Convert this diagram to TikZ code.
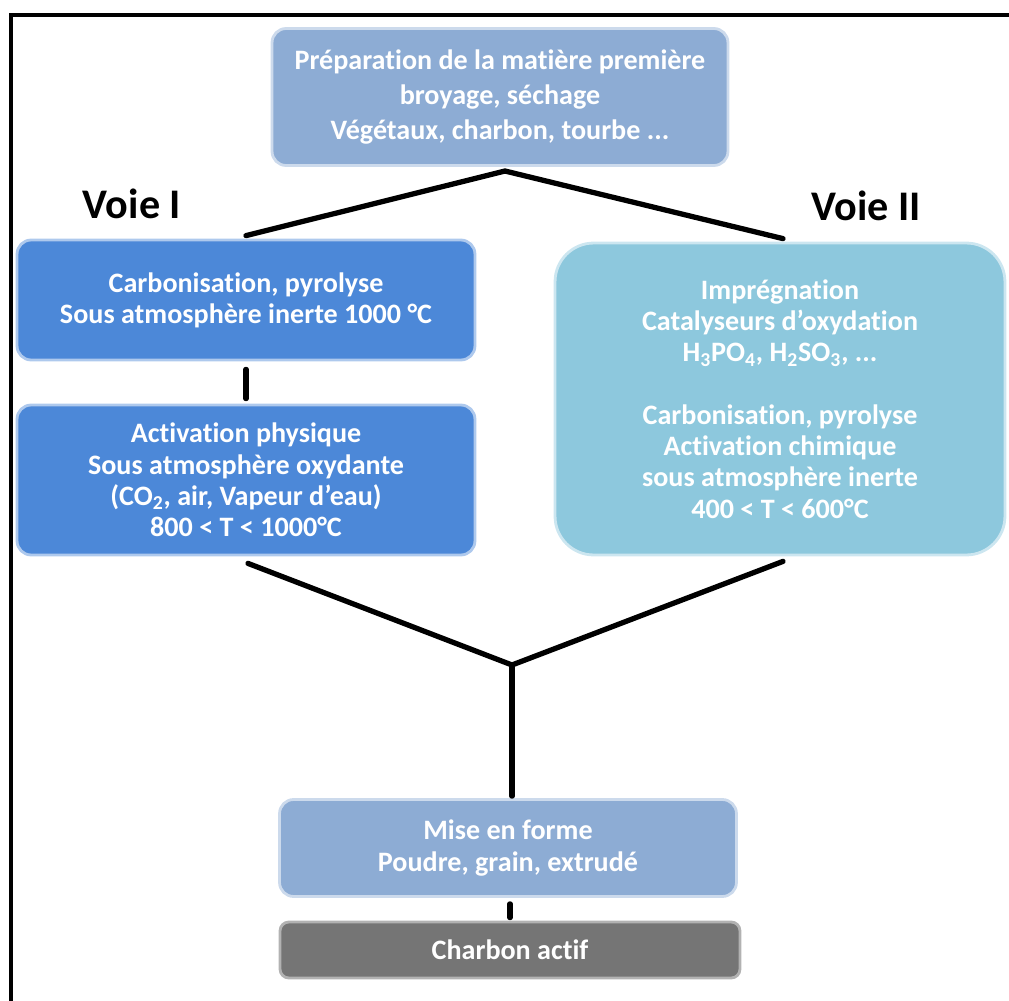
\documentclass[tikz,border=0pt]{standalone}
\usepackage{fontspec}
\setmainfont[Ligatures=NoCommon]{Carlito}
\usetikzlibrary{positioning,calc}
\definecolor{prep}{RGB}{141,172,212}
\definecolor{voiea}{RGB}{76,136,216}
\definecolor{voieb}{RGB}{141,200,221}
\definecolor{actif}{RGB}{117,117,117}

\begin{document}
\begin{tikzpicture}[x=0.02cm, y=-0.02cm,
  etape/.style={rectangle, draw=#1!45!white, fill=#1, line width=1.6pt, rounded corners=8pt,
                text=white, font=\fontsize{16}{17.8}\selectfont\bfseries, align=center},
  voie/.style={font=\fontsize{24}{28}\selectfont\bfseries},
  trait/.style={line width=3pt, line cap=round},
]
\useasboundingbox (0,0) rectangle (1009,1001);
\draw[line width=2.3pt] (11,1001) |- (1009,15);

\node[etape=prep, font=\fontsize{16}{20}\selectfont\bfseries,
      minimum width=9.12cm, minimum height=2.74cm] (prep) at (500,97) {
    Préparation de la matière première\\
    broyage, séchage\\
    Végétaux, charbon, tourbe ...
};

\node[voie] (v1) at (132,204) {Voie I};
\node[voie] (v2) at (866,206) {Voie II};

\node[etape=voiea, minimum width=9.16cm, minimum height=2.4cm] (carb) at (246,300) {
    Carbonisation, pyrolyse\\
    Sous atmosphère inerte 1000 °C
};
\node[etape=voiea, minimum width=9.16cm, minimum height=3.0cm] (phys) at (246,480) {
    Activation physique\\
    Sous atmosphère oxydante\\
    (CO\textsubscript{2}, air, Vapeur d’eau)\\
    800 < T < 1000°C
};

\node[etape=voieb, rounded corners=22pt, minimum width=9.0cm, minimum height=6.24cm] (chim) at (780,399) {
    Imprégnation\\
    Catalyseurs d’oxydation\\
    H\textsubscript{3}PO\textsubscript{4}, H\textsubscript{2}SO\textsubscript{3}, ...\\[17.8pt]
    Carbonisation, pyrolyse\\
    Activation chimique\\
    sous atmosphère inerte\\
    400 < T < 600°C
};

\node[etape=prep, minimum width=9.14cm, minimum height=1.94cm] (forme) at (508,848) {
    Mise en forme\\
    Poudre, grain, extrudé
};
\node[etape=actif, draw=black!30, rounded corners=5pt, minimum width=9.2cm, minimum height=1.12cm] (fin) at (510,950) {Charbon actif};

\coordinate (haut) at (505,171);
\coordinate (bas)  at (512,665);

\draw[trait] (carb.north) ++(0,-3) -- (haut) -- ($(chim.north)+(3,-3)$);
\draw[trait] ($(carb.south)+(0,8)$) -- ($(phys.north)+(0,-5)$);
\draw[trait] ($(phys.south)+(2,7)$) -- (bas) -- ($(chim.south)+(3,5)$);
\draw[trait] (bas) -- ($(forme.north)+(4,-2)$);
\draw[trait] ($(forme.south)+(2,6)$) -- ($(fin.north)+(0,-3)$);

\end{tikzpicture}
\end{document}
